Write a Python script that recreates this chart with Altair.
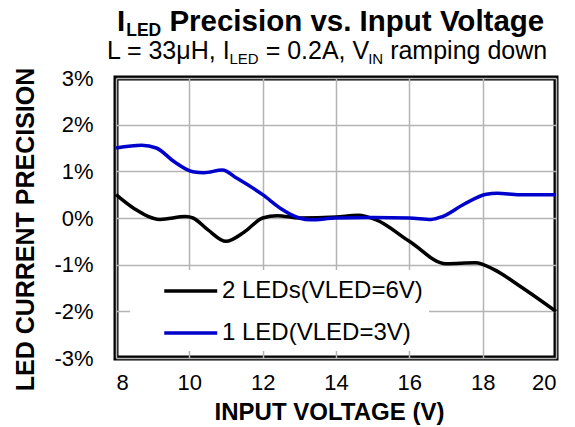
import altair as alt
import pandas as pd

# ---- data ----
x_black = [8, 8.5, 9.2, 9.9, 10.1, 10.5, 11, 11.5, 12, 12.4, 13, 14, 14.6, 15.1, 16, 17, 17.8, 18.3, 19, 20]
y_black = [0.5, 0.2, -0.03, 0.03, 0.0, -0.25, -0.5, -0.3, 0.0, 0.05, 0.0, 0.02, 0.06, -0.04, -0.5, -0.98, -0.96, -1.1, -1.45, -2.0]
x_blue = [8, 8.7, 9.1, 9.6, 10.1, 10.4, 10.9, 11.3, 12, 12.5, 13.0, 13.3, 14, 15, 16, 16.6, 16.9, 17.5, 18.1, 18.4, 19, 20]
y_blue = [1.5, 1.56, 1.5, 1.2, 0.99, 0.97, 1.03, 0.85, 0.5, 0.2, 0.0, -0.04, 0.0, 0.01, 0.0, -0.03, 0.03, 0.3, 0.51, 0.53, 0.5, 0.5]
series_names = ["2 LEDs(VLED=6V)", "1 LED(VLED=3V)"]
series_colors = ["#000000", "#0000CC"]
x_ticks = [8, 10, 12, 14, 16, 18, 20]
y_ticks = [-3, -2, -1, 0, 1, 2, 3]

# title pieces: (text, is_subscript)
title_pieces = [("I", False), ("LED", True), ("Precision vs. Input Voltage", False)]
subtitle_pieces = [("L = 33μH, I", False), ("LED", True), ("= 0.2A, V", False), ("IN", True), ("ramping down", False)]

FONT = "Liberation Sans"

rows = []
for x, y in zip(x_black, y_black):
    rows.append({"v": x, "p": y, "s": series_names[0]})
for x, y in zip(x_blue, y_blue):
    rows.append({"v": x, "p": y, "s": series_names[1]})
df = pd.DataFrame(rows)

W, H = 440, 280

# Arial / Liberation Sans advance widths (per 1000 em)
REG = {" ": 278, "=": 584, "μ": 576, "H": 722, ",": 278, "I": 278, "L": 556, "E": 667,
       "D": 722, ".": 278, "A": 667, "V": 667, "N": 722, "r": 333, "a": 556, "m": 833,
       "p": 556, "i": 222, "n": 556, "g": 556, "d": 556, "o": 556, "w": 722}
BOLD = {" ": 278, "I": 278, "L": 611, "E": 667, "D": 722, "P": 667, "r": 389, "e": 556,
        "c": 556, "i": 278, "s": 556, "o": 611, "n": 611, "v": 556, ".": 278, "p": 611,
        "u": 611, "t": 333, "V": 667, "l": 278, "a": 556, "g": 611}


def text_width(s, size, bold):
    table = BOLD if bold else REG
    return sum(table.get(ch, 556) for ch in s) * size / 1000.0


def txt(s, x, y, size, bold):
    return alt.Chart(pd.DataFrame({"t": [s]})).mark_text(
        align="left", baseline="alphabetic", font=FONT, fontSize=size,
        fontWeight="bold" if bold else "normal", color="black"
    ).encode(x=alt.value(x), y=alt.value(y), text="t:N")


def rich_line(pieces, x0, base, size, sub_size, sub_drop, bold, gap_before_main, sub_gap):
    out = []
    x = x0
    prev_sub = False
    for s, is_sub in pieces:
        if is_sub:
            x += sub_gap
            out.append(txt(s, x, base + sub_drop, sub_size, bold))
            x += text_width(s, sub_size, bold)
        else:
            if prev_sub:
                x += gap_before_main * size
            out.append(txt(s, x, base, size, bold))
            x += text_width(s, size, bold)
        prev_sub = is_sub
    return out


title_marks = rich_line(title_pieces, 1, -47, 29.5, 17.5, 5, True, 0.278, 1)
subtitle_marks = rich_line(subtitle_pieces, -9, -19, 25, 15, 5, False, 0.278, -1)

lines = alt.Chart(df).mark_line(interpolate="monotone", strokeWidth=3.5).encode(
    x=alt.X("v:Q", scale=alt.Scale(domain=[8, 20], nice=False, zero=False),
            axis=alt.Axis(values=x_ticks, title="INPUT VOLTAGE (V)", grid=True,
                          ticks=False, domain=False, labelFontSize=22, labelPadding=14,
                          titleFontSize=24, titleFontWeight="bold", titlePadding=7,
                          titleX=213, titleAlign="center",
                          labelFont=FONT, titleFont=FONT, labelColor="black", titleColor="black",
                          gridColor="#b4b4b4", gridWidth=1.5)),
    y=alt.Y("p:Q", scale=alt.Scale(domain=[-3, 3], nice=False),
            axis=alt.Axis(values=y_ticks, title="LED CURRENT PRECISION", grid=True,
                          labelExpr="datum.value + '%'",
                          ticks=False, domain=False, labelFontSize=22, labelPadding=23,
                          titleFontSize=25, titleFontWeight="bold",
                          titleX=-91, titleY=151, titleAlign="center", titleBaseline="middle",
                          titleAngle=270,
                          labelFont=FONT, titleFont=FONT, labelColor="black", titleColor="black",
                          gridColor="#b4b4b4", gridWidth=1.5)),
    color=alt.Color("s:N", scale=alt.Scale(domain=series_names, range=series_colors),
                    legend=alt.Legend(title=None, orient="none", legendX=14, legendY=192,
                                      fillColor="white", padding=6,
                                      symbolType="M1,0H5", symbolSize=702, symbolStrokeWidth=3.5,
                                      labelFontSize=24, labelFont=FONT, labelColor="black",
                                      labelOffset=56, rowPadding=15, labelLimit=400)),
)

chart = alt.layer(lines, *title_marks, *subtitle_marks).properties(
    width=W, height=H,
    autosize=alt.AutoSizeParams(type="none"),
    padding={"left": 108, "top": 70, "right": 11, "bottom": 69},
).configure_view(stroke="black", strokeWidth=5)

chart.save("out.html", embed_options={"renderer": "svg", "actions": False})
